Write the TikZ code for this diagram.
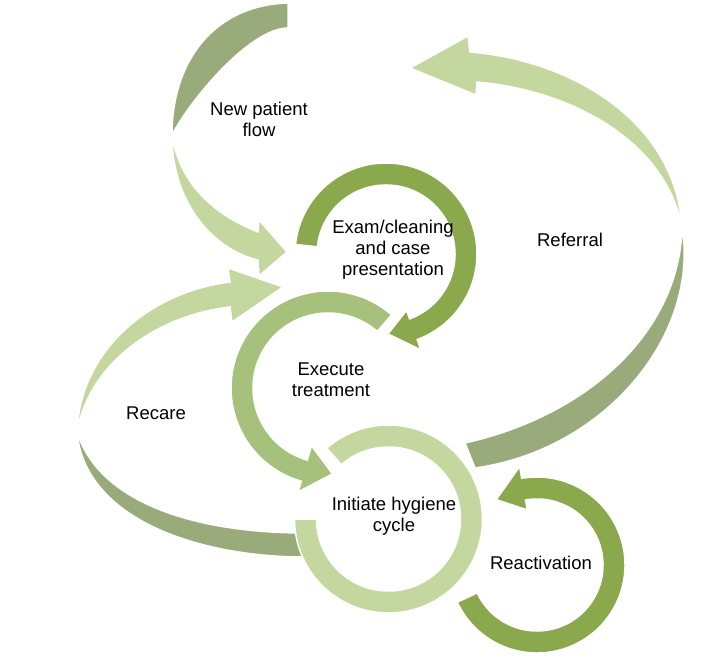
\documentclass[tikz,border=0pt]{standalone}
\usepackage{fontspec}
\setmainfont{Liberation Sans}
\usetikzlibrary{calc}
\definecolor{leafpale}{HTML}{C4D79E}
\definecolor{leafmid}{HTML}{A6C17B}
\definecolor{leafdeep}{HTML}{8AA94C}
\definecolor{leafgrey}{HTML}{9AAB7B}
\tikzset{
  band/.style={draw=white, line width=1.5pt, line join=miter},
  lbl/.style={align=center, font=\fontsize{18.5}{21}\selectfont, text=black, inner sep=0pt},
}
% ring arrow: [fill]{centre}{r in}{r out}{start}{base}{tip}{head in}{head out}
\newcommand{\ringarrow}[9][leafdeep]{%
  \begin{scope}[shift={(#2)}]
  \path[band, fill=#1] (#5:#4) arc[start angle=#5, end angle=#6, radius=#4]
     -- (#6:#9) -- (#7:{(#3+#4)/2}) -- (#6:#8) -- (#6:#3)
     arc[start angle=#6, end angle=#5, radius=#3] -- cycle;
  \end{scope}}

\begin{document}
\begin{tikzpicture}[x=1pt, y=-1pt]
\useasboundingbox (0,0) rectangle (720,658);

% new patient ribbon
\path[band, fill=leafgrey] (288,3) .. controls (215,5) and (172,60) .. (172,135)
   .. controls (190,100) and (250,28) .. (288,28) -- cycle;
\path[band, fill=leafpale] (172,135) .. controls (172,205) and (215,250) .. (258,260)
   -- (259,276) -- (287,252) -- (259,220) -- (258,232)
   .. controls (215,215) and (180,185) .. (172,135) -- cycle;

% referral ribbon
\path[band, fill=leafpale] (682,227) .. controls (675,120) and (570,60) .. (470,52)
   -- (468,36) -- (410,68) -- (476,95) -- (477,82)
   .. controls (570,90) and (665,140) .. (682,227) -- cycle;
\path[band, fill=leafgrey] (682,227) .. controls (700,335) and (605,450) .. (475,468)
   -- (465,443) .. controls (590,415) and (680,330) .. (682,227) -- cycle;

% recare ribbon
\path[band, fill=leafpale] (77,432) .. controls (80,350) and (150,292) .. (230,282)
   -- (228,268) -- (283,287) -- (232,322) -- (230,307)
   .. controls (160,315) and (90,360) .. (77,432) -- cycle;
\path[band, fill=leafgrey] (77,432) .. controls (85,520) and (200,557) .. (305,557)
   -- (305,533) .. controls (200,533) and (100,505) .. (77,432) -- cycle;

% hygiene ring
\begin{scope}[shift={(388.5,519)}]
\path[band, fill=leafpale] (229:94) arc[start angle=229, end angle=540, radius=94]
   -- (540:72) arc[start angle=540, end angle=229, radius=72] -- cycle;
\end{scope}

\ringarrow[leafmid]{328,388}{75}{97}{-49}{-254}{-273}{60}{108}
\ringarrow{386,254}{69}{91}{186}{430}{448.6}{60}{102}
\ringarrow{537,565}{66}{88}{155}{-100}{-122}{56}{100}

\node[lbl] (newflow) at (259,119) {New patient\\flow};
\node[lbl] (exam) at (393,250) {Exam/cleaning\\and case\\presentation};
\node[lbl] (referral) at (570,240) {Referral};
\node[lbl] (execute) at (331,380) {Execute\\treatment};
\node[lbl] (recare) at (156,413) {Recare};
\node[lbl] (hygiene) at (394,516) {Initiate hygiene\\cycle};
\node[lbl] (reactivation) at (541,563) {Reactivation};
\end{tikzpicture}
\end{document}
